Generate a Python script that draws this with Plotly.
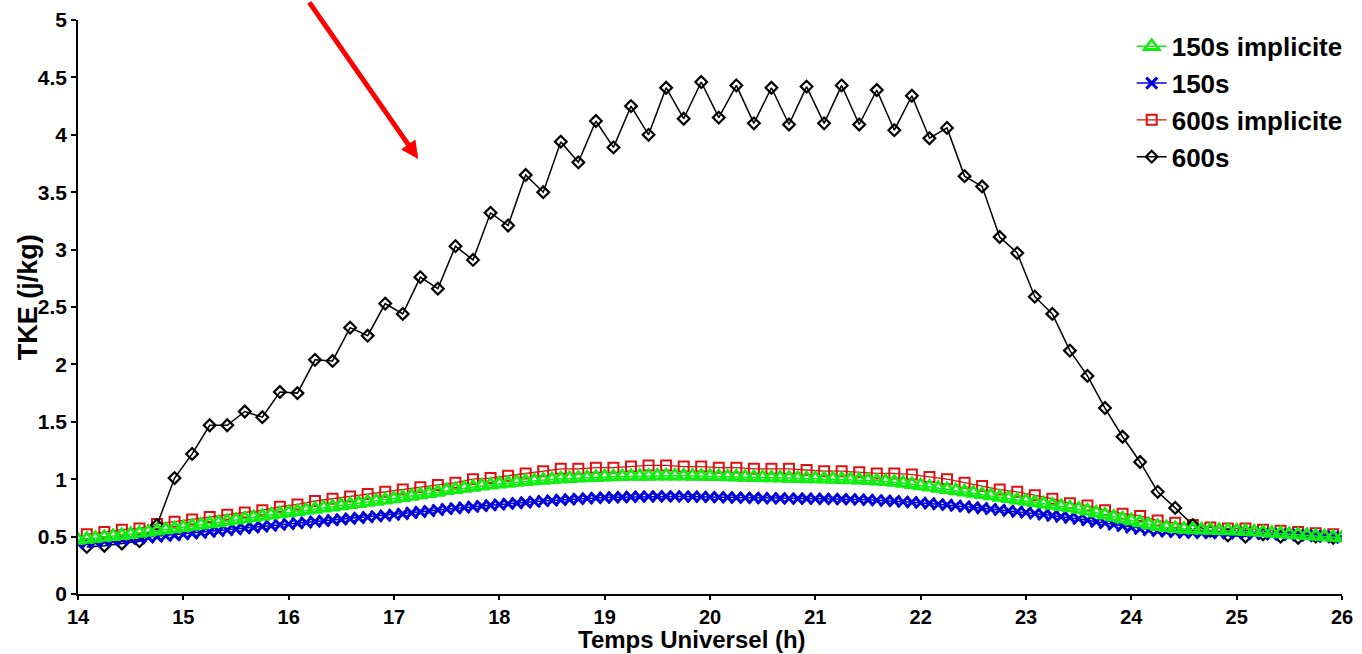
import plotly.graph_objects as go

# ---- data ----
# 600 s runs: one value every 10 minutes, starting 14:05
t600 = [14 + 1/12 + k/6 for k in range(72)]
tke_600 = [0.41, 0.42, 0.44, 0.46, 0.60, 1.01, 1.22, 1.47, 1.47, 1.59, 1.54, 1.76,
           1.75, 2.04, 2.03, 2.32, 2.25, 2.53, 2.44, 2.76, 2.66, 3.03, 2.91, 3.32,
           3.21, 3.65, 3.50, 3.94, 3.76, 4.12, 3.89, 4.25, 4.00, 4.41, 4.14, 4.46,
           4.15, 4.43, 4.10, 4.41, 4.09, 4.42, 4.10, 4.43, 4.09, 4.39, 4.04, 4.34,
           3.97, 4.06, 3.64, 3.55, 3.11, 2.97, 2.59, 2.44, 2.12, 1.90, 1.62, 1.37,
           1.15, 0.89, 0.75, 0.60, 0.55, 0.51, 0.50, 0.52, 0.50, 0.49, 0.50, 0.49]
tke_600_impl = [0.52, 0.54, 0.56, 0.57, 0.61, 0.63, 0.65, 0.67, 0.69, 0.71, 0.73, 0.76,
                0.78, 0.81, 0.83, 0.85, 0.87, 0.89, 0.91, 0.93, 0.95, 0.97, 1.00, 1.01,
                1.03, 1.05, 1.07, 1.09, 1.09, 1.10, 1.10, 1.11, 1.12, 1.12, 1.11, 1.11,
                1.10, 1.10, 1.09, 1.09, 1.09, 1.08, 1.07, 1.07, 1.06, 1.05, 1.05, 1.04,
                1.02, 1.00, 0.97, 0.94, 0.91, 0.89, 0.86, 0.83, 0.79, 0.77, 0.73, 0.70,
                0.68, 0.64, 0.62, 0.60, 0.58, 0.57, 0.57, 0.56, 0.55, 0.54, 0.53, 0.52]

# 150 s runs: one value every 5 minutes from 14:00 to 26:00
t150 = [14 + k/12 for k in range(145)]
tke_150_impl = [
    0.470, 0.478, 0.486, 0.495, 0.503, 0.511, 0.520, 0.530, 0.540, 0.550, 0.560, 0.570,
    0.580, 0.591, 0.602, 0.613, 0.623, 0.634, 0.645, 0.656, 0.667, 0.678, 0.689, 0.700,
    0.710, 0.720, 0.730, 0.740, 0.750, 0.760, 0.770, 0.780, 0.790, 0.800, 0.810, 0.820,
    0.830, 0.842, 0.853, 0.865, 0.876, 0.888, 0.903, 0.912, 0.922, 0.932, 0.942, 0.951,
    0.960, 0.967, 0.974, 0.981, 0.987, 0.993, 0.998, 1.003, 1.007, 1.011, 1.014, 1.017,
    1.020, 1.022, 1.024, 1.026, 1.027, 1.028, 1.029, 1.030, 1.030, 1.029, 1.028, 1.027,
    1.025, 1.024, 1.022, 1.021, 1.019, 1.017, 1.015, 1.013, 1.012, 1.010, 1.008, 1.006,
    1.005, 1.003, 1.001, 0.999, 0.997, 0.994, 0.990, 0.986, 0.981, 0.975, 0.966, 0.956,
    0.945, 0.934, 0.923, 0.912, 0.901, 0.890, 0.880, 0.869, 0.857, 0.845, 0.833, 0.821,
    0.810, 0.798, 0.786, 0.775, 0.763, 0.752, 0.740, 0.724, 0.707, 0.690, 0.672, 0.655,
    0.640, 0.622, 0.605, 0.590, 0.580, 0.572, 0.566, 0.562, 0.559, 0.557, 0.555, 0.553,
    0.550, 0.546, 0.541, 0.536, 0.531, 0.526, 0.521, 0.516, 0.511, 0.505, 0.500, 0.495,
    0.490]
tke_150 = [
    0.440, 0.447, 0.453, 0.460, 0.467, 0.473, 0.480, 0.487, 0.493, 0.500, 0.507, 0.513,
    0.520, 0.528, 0.535, 0.543, 0.550, 0.558, 0.565, 0.573, 0.580, 0.588, 0.595, 0.603,
    0.610, 0.617, 0.623, 0.630, 0.637, 0.643, 0.650, 0.657, 0.663, 0.670, 0.677, 0.683,
    0.690, 0.698, 0.707, 0.715, 0.723, 0.732, 0.740, 0.747, 0.753, 0.760, 0.767, 0.773,
    0.780, 0.786, 0.792, 0.798, 0.804, 0.810, 0.815, 0.820, 0.824, 0.829, 0.833, 0.837,
    0.840, 0.842, 0.844, 0.846, 0.848, 0.849, 0.850, 0.850, 0.850, 0.849, 0.848, 0.847,
    0.845, 0.843, 0.842, 0.840, 0.838, 0.837, 0.835, 0.834, 0.833, 0.832, 0.831, 0.831,
    0.830, 0.829, 0.828, 0.826, 0.825, 0.823, 0.820, 0.817, 0.813, 0.809, 0.804, 0.800,
    0.795, 0.789, 0.782, 0.776, 0.769, 0.762, 0.755, 0.748, 0.740, 0.733, 0.725, 0.718,
    0.710, 0.701, 0.692, 0.683, 0.674, 0.665, 0.655, 0.643, 0.630, 0.618, 0.605, 0.593,
    0.580, 0.568, 0.558, 0.550, 0.545, 0.540, 0.535, 0.533, 0.532, 0.531, 0.531, 0.530,
    0.530, 0.528, 0.525, 0.523, 0.520, 0.518, 0.515, 0.512, 0.508, 0.504, 0.500, 0.495,
    0.490]

x_ticks = list(range(14, 27))
y_ticks = [0, 0.5, 1, 1.5, 2, 2.5, 3, 3.5, 4, 4.5, 5]
y_tick_labels = ["0", "0.5", "1", "1.5", "2", "2.5", "3", "3.5", "4", "4.5", "5"]

FONT = "Liberation Sans, Arial, sans-serif"

fig = go.Figure()

fig.add_trace(go.Scatter(
    x=t600, y=tke_600_impl, name="600s implicite", mode="lines+markers",
    line=dict(color="#dd1111", width=1.3),
    marker=dict(symbol="square-open", size=10, color="#dd1111", line=dict(width=2)),
    legendrank=3))
fig.add_trace(go.Scatter(
    x=t600, y=tke_600, name="600s", mode="lines+markers",
    line=dict(color="black", width=1.5),
    marker=dict(symbol="diamond-open", size=9, color="black", line=dict(width=2.2)),
    legendrank=4))
fig.add_trace(go.Scatter(
    x=t150, y=tke_150, name="150s", mode="lines+markers",
    line=dict(color="#0000dd", width=1.5),
    marker=dict(symbol="x-thin", size=11, color="#0000dd", line=dict(width=3, color="#0000dd")),
    legendrank=2))
fig.add_trace(go.Scatter(
    x=t150, y=tke_150_impl, name="150s implicite", mode="lines+markers",
    line=dict(color="#11ee11", width=1.5),
    marker=dict(symbol="triangle-up-open", size=13, color="#11ee11", line=dict(width=2.8)),
    legendrank=1))

fig.add_annotation(
    x=17.23, y=3.79, xref="x", yref="y",
    ax=-110, ay=-158, axref="pixel", ayref="pixel",
    showarrow=True, arrowhead=2, arrowsize=0.7, arrowwidth=5, arrowcolor="#ff0000",
    text="")

# axis titles
fig.add_annotation(
    text="Temps Universel (h)", xref="paper", yref="paper", x=0.486, y=0,
    yshift=-45, yanchor="middle", showarrow=False,
    font=dict(family=FONT, size=24, color="black", weight="bold"))
fig.add_annotation(
    text="TKE (j/kg)", xref="paper", yref="paper", x=0, y=0.517,
    xshift=-50, xanchor="center", yanchor="middle", textangle=-90, showarrow=False,
    font=dict(family=FONT, size=27, color="black", weight="bold"))

fig.update_layout(
    width=1362, height=654,
    margin=dict(l=78, r=20, t=20, b=60, autoexpand=False),
    paper_bgcolor="white", plot_bgcolor="white",
    font=dict(family=FONT, size=20, color="black", weight="bold"),
    showlegend=True,
    legend=dict(
        x=1.0045, y=0.995, xanchor="right", yanchor="top",
        font=dict(family=FONT, size=26, color="black", weight="bold"),
        bgcolor="rgba(255,255,255,0)", tracegroupgap=0,
    ),
)
fig.update_xaxes(
    range=[14, 26], tickvals=x_ticks, ticktext=[str(v) for v in x_ticks],
    showgrid=False, zeroline=False, showline=True, linecolor="black", linewidth=1.5,
    ticks="outside", ticklen=4, tickwidth=1.5, tickcolor="black", automargin=False,
    tickfont=dict(family=FONT, size=20, weight="bold"),
)
fig.update_yaxes(
    range=[0, 5], tickvals=y_ticks, ticktext=y_tick_labels,
    showgrid=False, zeroline=False, showline=True, linecolor="black", linewidth=1.5,
    ticks="outside", ticklen=5, tickwidth=1.5, tickcolor="black", automargin=False,
    tickfont=dict(family=FONT, size=21, weight="bold"),
)

fig.write_html("out.html", config={"displayModeBar": False},
               post_script="document.body.style.margin='0';document.body.style.overflow='hidden';")
